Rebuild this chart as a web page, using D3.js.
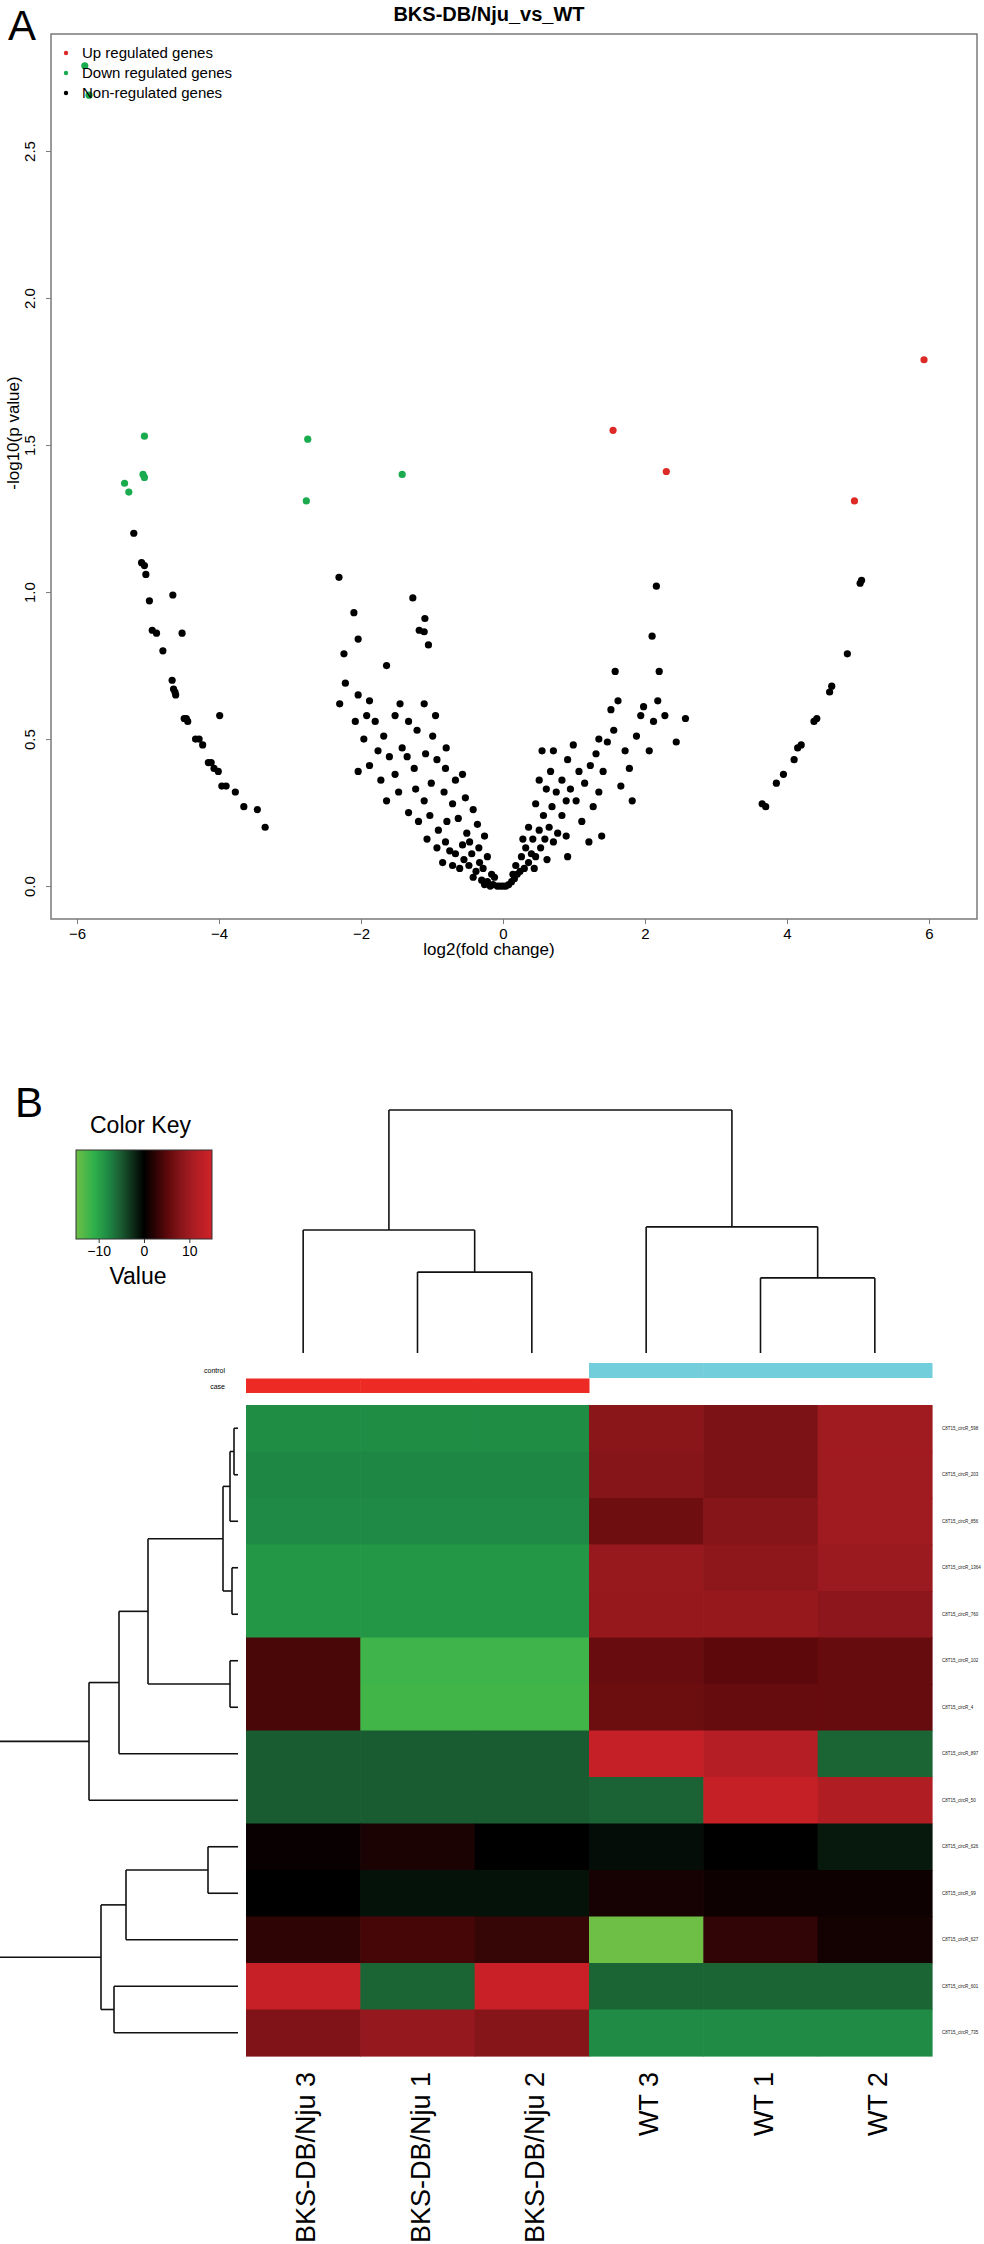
<!DOCTYPE html>
<html>
<head>
<meta charset="utf-8">
<script src="https://cdn.jsdelivr.net/npm/d3@7"></script>
<style>
  body { margin: 0; background: #fff; }
  text { font-family: "Liberation Sans", Arial, sans-serif; }
</style>
</head>
<body>
<svg id="fig"></svg>
<script>
// ---- panel A data: [log2 fold change, -log10 p] ----
const upGenes = [[1.55, 1.55], [2.30, 1.41], [4.95, 1.31], [5.93, 1.79]];
const downGenes = [[-5.89, 2.79], [-5.83, 2.69], [-5.05, 1.53], [-5.07, 1.40], [-5.05, 1.39],
  [-5.33, 1.37], [-5.27, 1.34], [-2.75, 1.52], [-2.77, 1.31], [-1.42, 1.40]];
const nonGenes = [
  // left arm
  [-5.20, 1.20], [-5.09, 1.10], [-5.05, 1.09], [-5.03, 1.06], [-4.98, 0.97], [-4.65, 0.99],
  [-4.94, 0.87], [-4.88, 0.86], [-4.52, 0.86], [-4.79, 0.80], [-4.66, 0.70], [-4.64, 0.67],
  [-4.62, 0.66], [-4.61, 0.65], [-4.49, 0.57], [-4.46, 0.57], [-4.44, 0.56], [-3.99, 0.58],
  [-4.33, 0.50], [-4.28, 0.50], [-4.23, 0.48], [-4.15, 0.42], [-4.11, 0.42], [-4.07, 0.40],
  [-4.01, 0.39], [-3.96, 0.34], [-3.90, 0.34], [-3.77, 0.32], [-3.65, 0.27], [-3.46, 0.26],
  [-3.35, 0.20],
  // centre, negative side
  [-2.31, 1.05], [-2.10, 0.93], [-2.04, 0.84], [-2.24, 0.79], [-1.64, 0.75], [-1.27, 0.98],
  [-1.10, 0.91], [-1.18, 0.87], [-1.11, 0.865], [-1.05, 0.82], [-2.30, 0.62], [-2.22, 0.69],
  [-2.04, 0.65], [-1.88, 0.63], [-1.92, 0.58], [-2.08, 0.56], [-1.80, 0.56], [-1.96, 0.50],
  [-1.68, 0.51], [-1.52, 0.58], [-1.45, 0.62], [-1.33, 0.56], [-1.21, 0.53], [-1.11, 0.62],
  [-0.95, 0.58], [-1.76, 0.46], [-1.60, 0.44], [-1.88, 0.41], [-2.04, 0.39], [-1.72, 0.36],
  [-1.52, 0.38], [-1.35, 0.44], [-1.25, 0.40], [-1.09, 0.45], [-0.93, 0.43], [-0.81, 0.40],
  [-0.67, 0.36], [-0.57, 0.38], [-1.64, 0.29], [-1.47, 0.32], [-1.23, 0.33], [-1.11, 0.29],
  [-1.01, 0.35], [-0.83, 0.32], [-0.71, 0.28], [-0.53, 0.30], [-0.42, 0.26], [-1.33, 0.25],
  [-1.19, 0.22], [-1.03, 0.24], [-0.91, 0.19], [-0.79, 0.22], [-0.63, 0.23], [-0.51, 0.18],
  [-0.36, 0.21], [-0.26, 0.17], [-1.07, 0.16], [-0.93, 0.13], [-0.81, 0.15], [-0.67, 0.11],
  [-0.57, 0.14], [-0.44, 0.11], [-0.34, 0.13], [-0.22, 0.10], [-0.85, 0.08], [-0.71, 0.07],
  [-0.61, 0.06], [-0.48, 0.07], [-0.38, 0.05], [-0.28, 0.06], [-0.16, 0.04], [-0.42, 0.03],
  [-0.30, 0.02], [-0.22, 0.015], [-0.14, 0.005], [-0.08, 0.0], [-0.04, 0.0], [0.0, 0.0],
  [-0.18, 0.0], [-0.26, 0.005], [-0.99, 0.51], [-0.80, 0.47], [-1.42, 0.47],
  [-0.55, 0.09], [-0.75, 0.12], [-0.47, 0.15], [-0.33, 0.08], [-0.12, 0.03],
  // centre, positive side
  [0.04, 0.0], [0.08, 0.005], [0.12, 0.015], [0.16, 0.025], [0.20, 0.04], [0.24, 0.05],
  [0.18, 0.07], [0.30, 0.06], [0.26, 0.10], [0.36, 0.08], [0.40, 0.11], [0.32, 0.13],
  [0.46, 0.10], [0.53, 0.13], [0.42, 0.16], [0.59, 0.16], [0.51, 0.19], [0.65, 0.20],
  [0.36, 0.20], [0.71, 0.15], [0.77, 0.18], [0.57, 0.24], [0.69, 0.27], [0.46, 0.28],
  [0.83, 0.24], [0.89, 0.29], [0.75, 0.32], [0.61, 0.33], [0.51, 0.36], [0.95, 0.33],
  [1.03, 0.29], [0.83, 0.36], [0.67, 0.39], [0.55, 0.46], [0.71, 0.46], [0.91, 0.43],
  [1.07, 0.39], [1.15, 0.35], [1.23, 0.41], [0.99, 0.48], [1.11, 0.22], [1.27, 0.27],
  [1.35, 0.32], [1.41, 0.39], [1.31, 0.45], [1.47, 0.49], [1.56, 0.53], [1.52, 0.60],
  [1.62, 0.63], [1.58, 0.73], [1.72, 0.46], [1.78, 0.40], [1.66, 0.34], [1.88, 0.51],
  [1.94, 0.58], [1.98, 0.61], [2.06, 0.46], [2.12, 0.56], [2.18, 0.63], [2.10, 0.85],
  [2.16, 1.02], [2.20, 0.73], [2.28, 0.58], [2.44, 0.49], [2.57, 0.57], [1.39, 0.17],
  [1.21, 0.15], [0.91, 0.10], [1.82, 0.29], [1.35, 0.50], [0.89, 0.17],
  [0.28, 0.16], [0.44, 0.06], [0.62, 0.09], [0.14, 0.04],
  // right arm
  [3.65, 0.28], [3.70, 0.27], [3.85, 0.35], [3.95, 0.38], [4.10, 0.43], [4.15, 0.47],
  [4.20, 0.48], [4.38, 0.56], [4.42, 0.57], [4.60, 0.66], [4.63, 0.68], [4.85, 0.79],
  [5.03, 1.03], [5.05, 1.04]
];
const xTicks = [-6, -4, -2, 0, 2, 4, 6];
const yTicks = [0, 0.5, 1, 1.5, 2, 2.5];
const legendLabels = ['Up regulated genes', 'Down regulated genes', 'Non-regulated genes'];
const legendColors = ['#dd2a27', '#1aab4f', '#000000'];

// ---- panel B data ----
const samples = ['BKS-DB/Nju 3', 'BKS-DB/Nju 1', 'BKS-DB/Nju 2', 'WT 3', 'WT 1', 'WT 2'];
const sampleGroup = ['case', 'case', 'case', 'control', 'control', 'control'];
const genes = ['C8T15_circR_598', 'C8T15_circR_203', 'C8T15_circR_856', 'C8T15_circR_1364',
  'C8T15_circR_760', 'C8T15_circR_102', 'C8T15_circR_4', 'C8T15_circR_897', 'C8T15_circR_50',
  'C8T15_circR_626', 'C8T15_circR_99', 'C8T15_circR_627', 'C8T15_circR_601', 'C8T15_circR_735'];
const expr = [
  [-8.2, -8.2, -8.2, 8.4, 7.4, 10.1],
  [-7.8, -7.8, -7.8, 8.0, 7.4, 10.1],
  [-8.0, -8.0, -8.0, 6.4, 8.0, 10.1],
  [-9.0, -9.0, -9.0, 9.4, 8.6, 9.7],
  [-9.0, -9.0, -9.0, 9.3, 9.3, 8.5],
  [4.1, -12.0, -12.0, 6.0, 5.2, 5.8],
  [4.1, -12.3, -12.3, 6.2, 5.8, 5.8],
  [-5.1, -5.1, -5.1, 13.8, 12.2, -5.6],
  [-5.1, -5.1, -5.1, -5.5, 13.9, 11.5],
  [0.5, 1.5, 0.0, -0.7, 0.0, -1.4],
  [0.0, -1.0, -1.0, 1.3, 0.8, 0.7],
  [2.6, 3.9, 3.0, -15.0, 2.7, 1.1],
  [14.0, -5.6, 14.2, -5.6, -5.6, -5.6],
  [7.6, 9.1, 8.0, -8.1, -8.1, -8.1]
];
const keyTicks = [-10, 0, 10];
const colorStops = [-15, -11, -8, -5, 0, 5, 8, 11, 15];
const colorRange = ['#6dbf45', '#2eb04b', '#1f8a45', '#1a5a30', '#000000', '#5a080a', '#861519', '#ab1d23', '#d02128'];
const groupColors = { control: '#72cedb', case: '#ee2a24' };
// dendrograms: leaves are display positions, h is merge height
const colTree = { h: 10, c: [{ h: 5.06, c: [0, { h: 3.33, c: [1, 2] }] }, { h: 5.19, c: [3, { h: 3.09, c: [4, 5] }] }] };
const rowTree = { h: 26, c: [
  { h: 14.9, c: [{ h: 11.9, c: [{ h: 9.0, c: [{ h: 1.5, c: [{ h: 0.8, c: [{ h: 0.4, c: [0, 1] }, 2] }, { h: 0.6, c: [3, 4] }] }, { h: 0.8, c: [5, 6] }] }, 7] }, 8] },
  { h: 13.7, c: [{ h: 11.2, c: [{ h: 3.0, c: [9, 10] }, 11] }, { h: 12.4, c: [12, 13] }] }
] };

const W = 984, H = 2244;
const svg = d3.select('#fig').attr('width', W).attr('height', H);

// ================= Panel A =================
const frame = { left: 51, top: 34, right: 977, bottom: 919 };
const xScale = d3.scaleLinear().domain([-6.366, 6.676]).range([frame.left, frame.right]);
const yScale = d3.scaleLinear().domain([-0.112, 2.898]).range([frame.bottom, frame.top]);

svg.append('text').attr('x', 8).attr('y', 40).style('font-size', '42px').text('A');

svg.append('text')
  .attr('x', 489).attr('y', 21)
  .style('text-anchor', 'middle').style('font-size', '20px').style('font-weight', 'bold')
  .text('BKS-DB/Nju_vs_WT');

svg.append('rect')
  .attr('x', frame.left).attr('y', frame.top)
  .attr('width', frame.right - frame.left).attr('height', frame.bottom - frame.top)
  .attr('fill', 'none').attr('stroke', '#7a7a7a').attr('stroke-width', 1.5);

const xAxis = d3.axisBottom(xScale).tickValues(xTicks).tickSize(5).tickSizeOuter(0)
  .tickFormat(d3.format('d'));
const gx = svg.append('g').attr('transform', 'translate(0,' + frame.bottom + ')').call(xAxis);
gx.select('.domain').remove();
gx.selectAll('line').attr('stroke', '#7a7a7a');
gx.selectAll('text').attr('y', 9).attr('dy', '0.71em').style('font-size', '15px').attr('fill', '#000')
  .style('font-family', '"Liberation Sans", Arial, sans-serif');

const yAxis = d3.axisLeft(yScale).tickValues(yTicks).tickSize(5).tickSizeOuter(0)
  .tickFormat(d3.format('.1f'));
const gy = svg.append('g').attr('transform', 'translate(' + frame.left + ',0)').call(yAxis);
gy.select('.domain').remove();
gy.selectAll('line').attr('stroke', '#7a7a7a');
gy.selectAll('text')
  .attr('x', null).attr('dy', null)
  .attr('transform', 'translate(-16,0) rotate(-90)')
  .style('text-anchor', 'middle').style('font-size', '15px').attr('fill', '#000')
  .style('font-family', '"Liberation Sans", Arial, sans-serif');

svg.append('text')
  .attr('x', 489).attr('y', 955)
  .style('text-anchor', 'middle').style('font-size', '17px')
  .text('log2(fold change)');

svg.append('text')
  .attr('transform', 'rotate(-90)')
  .attr('x', -433).attr('y', 19)
  .style('text-anchor', 'middle').style('font-size', '17px')
  .text('-log10(p value)');

const drawPoints = (data, color) => svg.append('g')
  .selectAll('circle').data(data).enter().append('circle')
  .attr('cx', d => xScale(d[0])).attr('cy', d => yScale(d[1]))
  .attr('r', 3.6).attr('fill', color);
drawPoints(nonGenes, legendColors[2]);
drawPoints(downGenes, legendColors[1]);
drawPoints(upGenes, legendColors[0]);

const legend = svg.append('g').selectAll('g').data(legendLabels).enter().append('g')
  .attr('transform', (d, i) => 'translate(66,' + (53 + i * 20) + ')');
legend.append('circle').attr('r', 2.2).attr('fill', (d, i) => legendColors[i]);
legend.append('text').attr('x', 16).attr('dy', '0.35em').style('font-size', '15px').text(d => d);

// ================= Panel B =================
svg.append('text').attr('x', 15).attr('y', 1117).style('font-size', '42px').text('B');

const hm = { left: 246, right: 932, top: 1405, bottom: 2056 };
const colBand = d3.scaleBand().domain(d3.range(samples.length)).range([hm.left, hm.right]);
const rowBand = d3.scaleBand().domain(d3.range(genes.length)).range([hm.top, hm.bottom]);
const color = d3.scaleLinear().domain(colorStops).range(colorRange).clamp(true);

// colour key
const keyBox = { left: 76, right: 212, top: 1150, bottom: 1239 };
const keyScale = d3.scaleLinear().domain([-15, 15]).range([keyBox.left, keyBox.right]);
const grad = svg.append('defs').append('linearGradient').attr('id', 'keyGrad');
grad.selectAll('stop').data(colorStops).enter().append('stop')
  .attr('offset', d => ((d + 15) / 30 * 100) + '%')
  .attr('stop-color', (d, i) => colorRange[i]);
svg.append('rect')
  .attr('x', keyBox.left).attr('y', keyBox.top)
  .attr('width', keyBox.right - keyBox.left).attr('height', keyBox.bottom - keyBox.top)
  .attr('fill', 'url(#keyGrad)').attr('stroke', '#333').attr('stroke-width', 1);
svg.append('text').attr('x', 90).attr('y', 1133).style('font-size', '23px').text('Color Key');
const gk = svg.append('g').attr('transform', 'translate(0,' + keyBox.bottom + ')')
  .call(d3.axisBottom(keyScale).tickValues(keyTicks).tickSize(4).tickSizeOuter(0));
gk.select('.domain').remove();
gk.selectAll('line').attr('stroke', '#333');
gk.selectAll('text').style('font-size', '14px').attr('fill', '#000')
  .style('font-family', '"Liberation Sans", Arial, sans-serif');
svg.append('text').attr('x', (keyBox.left + keyBox.right) / 2 - 6).attr('y', 1284)
  .style('text-anchor', 'middle').style('font-size', '23px').text('Value');

// column dendrogram
const colY = d3.scaleLinear().domain([0, 10]).range([1353, 1110]);
const dendro = svg.append('g').attr('fill', 'none').attr('stroke', '#111').attr('stroke-width', 1.6);
function drawCol(node) {
  if (typeof node === 'number') return { pos: colBand(node) + colBand.bandwidth() / 2, h: 0 };
  const kids = node.c.map(drawCol);
  const y = colY(node.h);
  dendro.append('line').attr('x1', kids[0].pos).attr('x2', kids[1].pos).attr('y1', y).attr('y2', y);
  kids.forEach(k => dendro.append('line').attr('x1', k.pos).attr('x2', k.pos).attr('y1', y).attr('y2', colY(k.h)));
  return { pos: (kids[0].pos + kids[1].pos) / 2, h: node.h };
}
drawCol(colTree);

// row dendrogram
const rowX = d3.scaleLinear().domain([0, 10]).range([238, 138]);
function drawRow(node) {
  if (typeof node === 'number') return { pos: rowBand(node) + rowBand.bandwidth() / 2, h: 0 };
  const kids = node.c.map(drawRow);
  const x = rowX(node.h);
  dendro.append('line').attr('y1', kids[0].pos).attr('y2', kids[1].pos).attr('x1', x).attr('x2', x);
  kids.forEach(k => dendro.append('line').attr('y1', k.pos).attr('y2', k.pos).attr('x1', x).attr('x2', rowX(k.h)));
  return { pos: (kids[0].pos + kids[1].pos) / 2, h: node.h };
}
drawRow(rowTree);

// side colour bars
const barRows = { control: [1363, 1378], case: [1378.5, 1393] };
svg.append('g').selectAll('rect').data(samples).enter().append('rect')
  .attr('x', (d, i) => colBand(i)).attr('width', colBand.bandwidth() + 0.5)
  .attr('y', (d, i) => barRows[sampleGroup[i]][0])
  .attr('height', (d, i) => barRows[sampleGroup[i]][1] - barRows[sampleGroup[i]][0])
  .attr('fill', (d, i) => groupColors[sampleGroup[i]]);
svg.append('text').attr('x', 225).attr('y', 1371).attr('dy', '0.35em')
  .style('text-anchor', 'end').style('font-size', '7px').text('control');
svg.append('text').attr('x', 225).attr('y', 1387).attr('dy', '0.35em')
  .style('text-anchor', 'end').style('font-size', '7px').text('case');

// heatmap cells
const cells = [];
expr.forEach((row, r) => row.forEach((v, c) => cells.push({ r, c, v })));
svg.append('g').selectAll('rect').data(cells).enter().append('rect')
  .attr('x', d => colBand(d.c)).attr('y', d => rowBand(d.r))
  .attr('width', colBand.bandwidth() + 0.6).attr('height', rowBand.bandwidth() + 0.6)
  .attr('fill', d => color(d.v));

// row labels
svg.append('g').selectAll('text').data(genes).enter().append('text')
  .attr('x', 942).attr('y', (d, i) => rowBand(i) + rowBand.bandwidth() / 2).attr('dy', '0.35em')
  .style('font-size', '4.5px').attr('fill', '#222').text(d => d);

// column labels
svg.append('g').selectAll('text').data(samples).enter().append('text')
  .attr('transform', (d, i) => 'translate(' + (colBand(i) + colBand.bandwidth() / 2) + ',2072) rotate(-90)')
  .attr('dy', '0.45em').style('text-anchor', 'end').style('font-size', '27px')
  .text(d => d);
</script>
</body>
</html>
